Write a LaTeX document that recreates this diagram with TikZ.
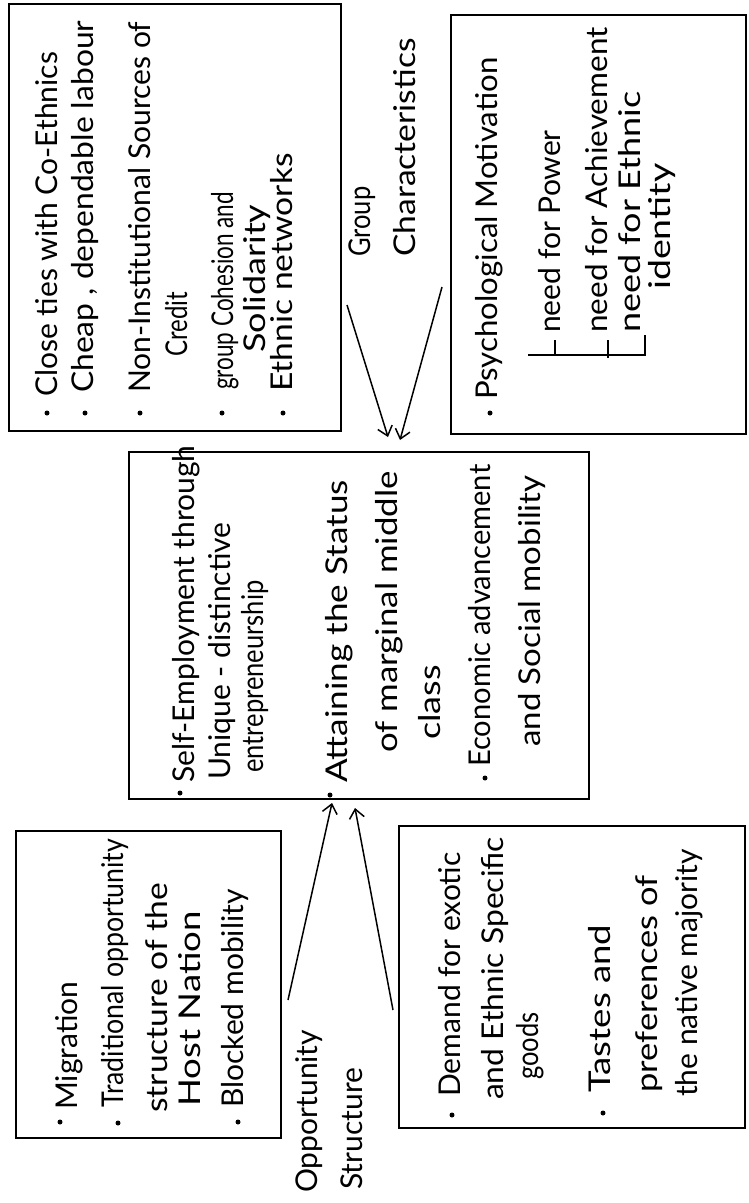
\documentclass[tikz,border=0pt]{standalone}
\usepackage{fontspec}
\setmainfont{Lato}
\usetikzlibrary{arrows.meta}
\begin{document}
\begin{tikzpicture}[x=1pt,y=-1pt,
  box/.style={draw, line width=2.2pt, inner sep=0pt, anchor=north west},
  ln/.style={rotate=90, anchor=base west, inner sep=0pt, font=\fontsize{30}{34}\selectfont},
  st/.style={font=\fontsize{30}{34}\selectfont\addfontfeature{FakeStretch=#1}},
  lbl/.style={rotate=90, anchor=base west, inner sep=0pt, font=\fontsize{30}{34}\selectfont},
  conn/.style={line width=1.5pt, -{Straight Barb[length=9pt,width=15pt,line width=1.5pt]}},
  brk/.style={line width=1.4pt}]
\fill[white] (0,0) rectangle (748,1203);
\useasboundingbox (0,0) rectangle (748,1203);

% boxes
\node[box, minimum width=332pt, minimum height=427pt] (gc) at (8,3) {};
\node[box, minimum width=295pt, minimum height=419pt] (pm) at (450,14) {};
\node[box, minimum width=460pt, minimum height=347pt] (core) at (128,451) {};
\node[box, minimum width=265pt, minimum height=307pt] (os) at (15,830) {};
\node[box, minimum width=346pt, minimum height=302pt] (dm) at (398,825) {};

% group characteristics list
\node[ln] (t1) at (57,397) {Close ties with Co-Ethnics};
\node[ln, st=1.06] (t2) at (93,393) {Cheap , dependable labour};
\node[ln] (t3) at (150,393) {Non-Institutional Sources of};
\node[ln, st=0.8] (t4) at (187,357) {Credit};
\node[ln, st=0.75] (t5) at (233,390) {group Cohesion and};
\node[ln, st=1.2] (t6) at (265,353) {Solidarity};
\node[ln, st=1.12] (t7) at (292,392) {Ethnic networks};
\fill (47,413) circle (2.5pt) (85,413) circle (2.5pt) (140,413) circle (2.5pt)
      (222,413) circle (2.5pt) (283,413) circle (2.5pt);

% psychological motivation
\node[ln, st=1.04] (p1) at (497,400) {Psychological Motivation};
\node[ln] (p2) at (560,333) {need for Power};
\node[ln, st=1.05] (p3) at (607,333) {need for Achievement};
\node[ln, st=1.2] (p4) at (640,333) {need for Ethnic};
\node[ln, st=1.25] (p5) at (670,290) {identity};
\fill (490,413) circle (2.5pt);
\draw[brk] (528,355) -- (645,355) -- (645,335);
\draw[brk] (555,340) -- (555,355);
\draw[brk] (608,340) -- (608,358);

% core
\node[ln] (c1) at (194,783) {Self-Employment through};
\node[ln] (c2) at (230,780) {Unique - distinctive};
\node[ln, st=0.85] (c3) at (263,773) {entrepreneurship};
\node[ln, st=1.17] (c4) at (347,783) {Attaining the Status};
\node[ln, st=1.16] (c5) at (397,753) {of marginal middle};
\node[ln, st=1.2] (c6) at (440,740) {class};
\node[ln, st=0.97] (c7) at (490,767) {Economic advancement};
\node[ln, st=1.1] (c8) at (540,747) {and Social mobility};
\fill (180,793) circle (2.5pt) (330,795) circle (2.5pt) (485,778) circle (2.5pt);

% opportunity structure list
\node[ln] (o1) at (77,1110) {Migration};
\node[ln, st=0.89] (o2) at (123,1108) {Traditional opportunity};
\node[ln, st=1.12] (o3) at (167,1113) {structure of the};
\node[ln, st=1.22] (o4) at (200,1107) {Host Nation};
\node[ln] (o5) at (243,1108) {Blocked mobility};
\fill (60,1122) circle (2.5pt) (118,1123) circle (2.5pt) (238,1122) circle (2.5pt);

% demand list
\node[ln] (d1) at (460,1097) {Demand for exotic};
\node[ln, st=1.06] (d2) at (503,1100) {and Ethnic Specific};
\node[ln, st=0.85] (d3) at (538,1080) {goods};
\node[ln, st=1.22] (d4) at (610,1093) {Tastes and};
\node[ln, st=1.15] (d5) at (657,1093) {preferences of};
\node[ln] (d6) at (697,1097) {the native majority};
\fill (452,1115) circle (2.5pt) (603,1113) circle (2.5pt);

% labels
\node[lbl, st=0.85] (g1) at (370,257) {Group};
\node[lbl, st=1.12] (g2) at (415,257) {Characteristics};
\node[lbl] (s1) at (317,1193) {Opportunity};
\node[lbl] (s2) at (362,1190) {Structure};

% connectors
\coordinate (ga) at (347,305);
\coordinate (gb) at (442,287);
\coordinate (ta) at (388,437);
\coordinate (tb) at (400,440);
\coordinate (sa) at (288,1000);
\coordinate (sb) at (393,1010);
\coordinate (ba) at (332,803);
\coordinate (bb) at (355,808);
\draw[conn] (ga) -- (ta);
\draw[conn] (gb) -- (tb);
\draw[conn] (sa) -- (ba);
\draw[conn] (sb) -- (bb);
\end{tikzpicture}
\end{document}
